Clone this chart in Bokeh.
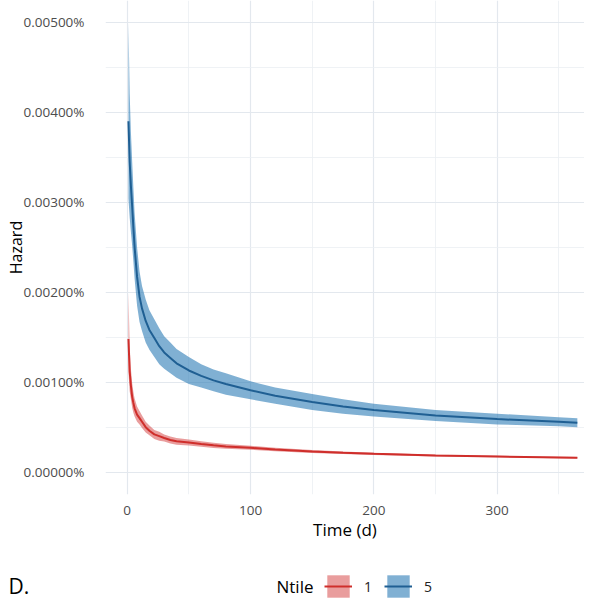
from bokeh.plotting import figure
from bokeh.layouts import column
from bokeh.models import (ColumnDataSource, FixedTicker, CustomJSTickFormatter, Range1d,
                          Legend, LegendItem, Label)
from bokeh.embed import file_html
from bokeh.resources import INLINE

# ---------------- data (hazard in percent units) ----------------
time_days = [1, 2, 3, 4, 5, 6, 8, 10, 12, 15, 18, 22, 26, 30, 35, 40, 50, 60, 70, 80,
             100, 120, 150, 175, 200, 250, 300, 350, 365]

ntile1_hazard = [0.00148, 0.00112, 0.00096, 0.00084, 0.00077, 0.00071, 0.00064, 0.00060,
                 0.00056, 0.00050, 0.00046, 0.00042, 0.00040, 0.00038, 0.000357, 0.000343,
                 0.000330, 0.000313, 0.000298, 0.000286, 0.000271, 0.000252, 0.000230,
                 0.000215, 0.000204, 0.000185, 0.000174, 0.000164, 0.000161]
ntile1_lower = [0.00111, 0.00090, 0.00081, 0.00072, 0.00066, 0.00062, 0.00056, 0.00053,
                0.00049, 0.00044, 0.00041, 0.00037, 0.00035, 0.00034, 0.000318, 0.000306,
                0.000296, 0.000282, 0.000270, 0.000260, 0.000249, 0.000233, 0.000214,
                0.000201, 0.000192, 0.000175, 0.000165, 0.000156, 0.000153]
ntile1_upper = [0.00200, 0.00140, 0.00115, 0.00099, 0.00089, 0.00082, 0.00073, 0.00068,
                0.00063, 0.00056, 0.00052, 0.00047, 0.00045, 0.00042, 0.000396, 0.000380,
                0.000364, 0.000344, 0.000326, 0.000312, 0.000293, 0.000271, 0.000246,
                0.000229, 0.000216, 0.000195, 0.000183, 0.000172, 0.000169]

ntile5_hazard = [0.00390, 0.00345, 0.00318, 0.00296, 0.00272, 0.00250, 0.00217, 0.00195,
                 0.00182, 0.00168, 0.00158, 0.00149, 0.00140, 0.00133, 0.00127, 0.00121,
                 0.00113, 0.00107, 0.00102, 0.00098, 0.00091, 0.00085, 0.00078, 0.00073,
                 0.00069, 0.00063, 0.00059, 0.00056, 0.00055]
ntile5_lower = [0.00304, 0.00283, 0.00267, 0.00252, 0.00234, 0.00215, 0.00185, 0.00167,
                0.00157, 0.00144, 0.00136, 0.00128, 0.00120, 0.00115, 0.00110, 0.00105,
                0.00098, 0.00094, 0.00090, 0.00086, 0.00081, 0.00076, 0.00069, 0.00065,
                0.00062, 0.00057, 0.00053, 0.00051, 0.00050]
ntile5_upper = [0.00500, 0.00421, 0.00378, 0.00346, 0.00316, 0.00288, 0.00250, 0.00223,
                0.00207, 0.00192, 0.00180, 0.00170, 0.00160, 0.00151, 0.00144, 0.00137,
                0.00128, 0.00120, 0.00114, 0.00110, 0.00101, 0.00094, 0.00087, 0.00081,
                0.00076, 0.00069, 0.00065, 0.00061, 0.00060]

x_ticks = [0, 100, 200, 300]
x_minor_ticks = [50, 150, 250, 350]
y_ticks = [0.0, 0.001, 0.002, 0.003, 0.004, 0.005]
y_minor_ticks = [0.0005, 0.0015, 0.0025, 0.0035, 0.0045]

x_title = "Time (d)"
y_title = "Hazard"
legend_title = "Ntile"
legend_labels = ["1", "5"]
panel_tag = "D."

# ---------------- styling ----------------
FONT = "Open Sans"
RED_LINE, RED_FILL = "#cf2e2b", "#d43c3c"
BLUE_LINE, BLUE_FILL = "#1f5f93", "#2b7bb5"
RED_ALPHA, BLUE_ALPHA = 0.5, 0.6
GRID = "#e3e8ee"
GRID_MINOR = "#ebeff3"
W = 584

p = figure(width=W, height=548, output_backend="svg", toolbar_location=None,
           x_range=Range1d(-17.6, 370.8), y_range=Range1d(-0.000248, 0.005241),
           min_border_left=105, min_border_right=0, min_border_top=0, min_border_bottom=54)
p.outline_line_color = None
p.background_fill_color = "white"
p.border_fill_color = "white"

src1 = ColumnDataSource(dict(t=time_days, h=ntile1_hazard, lo=ntile1_lower, hi=ntile1_upper))
src5 = ColumnDataSource(dict(t=time_days, h=ntile5_hazard, lo=ntile5_lower, hi=ntile5_upper))

p.varea(x="t", y1="lo", y2="hi", source=src1, fill_color=RED_FILL, fill_alpha=RED_ALPHA)
p.varea(x="t", y1="lo", y2="hi", source=src5, fill_color=BLUE_FILL, fill_alpha=BLUE_ALPHA)
p.line("t", "h", source=src1, line_color=RED_LINE, line_width=2)
p.line("t", "h", source=src5, line_color=BLUE_LINE, line_width=2)

# axes
p.xaxis.ticker = FixedTicker(ticks=x_ticks, minor_ticks=x_minor_ticks)
p.yaxis.ticker = FixedTicker(ticks=y_ticks, minor_ticks=y_minor_ticks)
p.yaxis.formatter = CustomJSTickFormatter(code="return tick.toFixed(5) + '%';")
for ax in (p.xaxis[0], p.yaxis[0]):
    ax.axis_line_color = None
    ax.major_tick_line_color = None
    ax.minor_tick_line_color = None
    ax.major_label_text_font = FONT
    ax.major_label_text_font_size = "13.5px"
    ax.major_label_text_color = "#4d4d4d"
    ax.axis_label_text_font = FONT
    ax.axis_label_text_font_style = "normal"
    ax.axis_label_text_color = "#000000"
p.xaxis.axis_label_text_font_size = "17px"
p.yaxis.axis_label_text_font_size = "16px"
p.xaxis.major_label_standoff = 5
p.yaxis.major_label_standoff = 15
p.xaxis.axis_label = x_title
p.xaxis.axis_label_standoff = 0
p.yaxis.axis_label = y_title
p.yaxis.axis_label_standoff = -7

for g in (p.xgrid[0], p.ygrid[0]):
    g.grid_line_color = GRID
    g.grid_line_width = 1.2
    g.minor_grid_line_color = GRID_MINOR
    g.minor_grid_line_width = 0.8

# ---------------- bottom strip: legend and panel tag ----------------
# strip coordinates: y range starts above the data values, so the legend proxy
# renderers (which reuse the data sources) stay outside the visible frame
strip = figure(width=W, height=52, output_backend="svg", toolbar_location=None,
               x_range=Range1d(0, W), y_range=Range1d(1, 53),
               x_axis_location=None, y_axis_location=None,
               min_border_left=0, min_border_right=0, min_border_top=0, min_border_bottom=0)
strip.outline_line_color = None
strip.grid.visible = False
strip.background_fill_color = "white"
strip.border_fill_color = "white"
for fig in (p, strip):
    try:
        fig.frame_align = False
    except Exception:
        pass

k1a = strip.varea(x="t", y1="lo", y2="hi", source=src1, fill_color=RED_FILL, fill_alpha=RED_ALPHA)
k1b = strip.line("t", "h", source=src1, line_color=RED_LINE, line_width=2)
k5a = strip.varea(x="t", y1="lo", y2="hi", source=src5, fill_color=BLUE_FILL, fill_alpha=BLUE_ALPHA)
k5b = strip.line("t", "h", source=src5, line_color=BLUE_LINE, line_width=2)

legend = Legend(items=[LegendItem(label=legend_labels[0], renderers=[k1a, k1b]),
                       LegendItem(label=legend_labels[1], renderers=[k5a, k5b])],
                orientation="horizontal", location=(324, 0),
                glyph_width=28, glyph_height=28, label_standoff=12, label_width=20,
                label_height=28, spacing=0, padding=0, margin=0,
                border_line_color=None, background_fill_alpha=0,
                label_text_font=FONT, label_text_font_size="14px",
                label_text_color="#222222", label_text_baseline="middle")
strip.add_layout(legend, "center")

strip.add_layout(Label(x=276, y=14, x_units="screen", y_units="screen", text=legend_title,
                       text_baseline="middle", text_align="left", text_font=FONT,
                       text_font_size="17px", text_color="#000000"))
strip.add_layout(Label(x=8, y=15, x_units="screen", y_units="screen", text=panel_tag,
                       text_baseline="middle", text_align="left", text_font=FONT,
                       text_font_size="21px", text_color="#000000"))

layout = column(p, strip, spacing=0)
open("out.html", "w").write(file_html(layout, INLINE))
